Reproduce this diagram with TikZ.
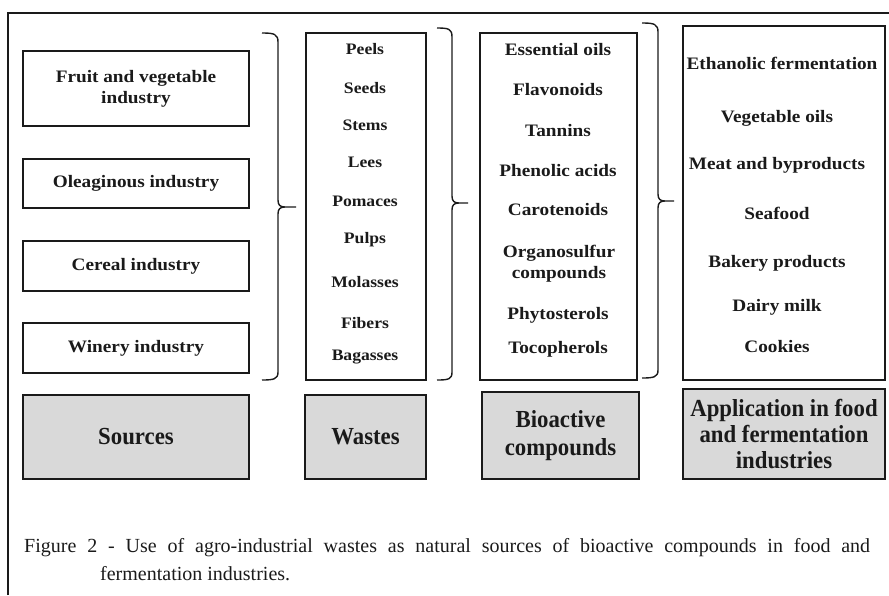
\documentclass[tikz,border=0pt]{standalone}
\usepackage{fontspec}
\setmainfont{Liberation Serif}
\newfontfamily\stfont[FakeStretch=1.1]{Liberation Serif}
\newfontfamily\condfont[FakeStretch=0.93]{Liberation Serif}
\definecolor{boxgray}{HTML}{D9D9D9}
\definecolor{ink}{HTML}{1A1A1A}
\tikzset{
  topbox/.style={draw=ink, line width=1.5pt, inner sep=0pt, align=center,
     font={\stfont\bfseries\fontsize{17.5}{21}\selectfont}, text=ink},
  listbox/.style={draw=ink, line width=1.5pt, inner sep=0pt},
  itm/.style={inner sep=0pt, align=center, text=ink,
     font={\stfont\bfseries\fontsize{17.5}{21}\selectfont}},
  witm/.style={itm, font={\stfont\bfseries\fontsize{16}{20}\selectfont}},
  greybox/.style={draw=ink, line width=1.6pt, fill=boxgray, inner sep=0pt, align=center, text=ink,
     font={\condfont\bfseries\fontsize{24.5}{26}\selectfont}},
  brc/.style={draw=ink, line width=1.4pt},
  frame/.style={draw=ink, line width=1.2pt},
  captxt/.style={inner sep=0pt, anchor=west, text=ink, font={\fontsize{20}{28}\selectfont}}
}
\begin{document}
\begin{tikzpicture}[x=1pt,y=-1pt]
\useasboundingbox (0,0) rectangle (889,595);
% outer frame
\draw[frame] (8,595) -- (8,13) -- (889,13);

% sources
\node[topbox, minimum width=226pt, minimum height=75pt] (fv) at (136,88.5) {Fruit and vegetable\\industry};
\node[topbox, minimum width=226pt, minimum height=49pt] (ol) at (136,183.5) {Oleaginous industry};
\node[topbox, minimum width=226pt, minimum height=50pt] (ce) at (136,266) {Cereal industry};
\node[topbox, minimum width=226pt, minimum height=50pt] (wi) at (136,348) {Winery industry};

% list boxes
\node[listbox, minimum width=120pt, minimum height=347pt] (wbox) at (366,206.5) {};
\node[listbox, minimum width=157pt, minimum height=347pt] (bbox) at (558.5,206.5) {};
\node[listbox, minimum width=202pt, minimum height=354pt] (abox) at (784,203) {};

% wastes items
\foreach \t/\y [count=\i] in {Peels/49, Seeds/88, Stems/125, Lees/162, Pomaces/201, Pulps/240, Molasses/282, Fibers/323, Bagasses/357}
  \node[witm] (w\i) at (365,\y) {\t};

% bioactive items
\foreach \t/\y [count=\i] in {Essential oils/50, Flavonoids/90, Tannins/131, Phenolic acids/171, Carotenoids/210, Phytosterols/315, Tocopherols/349}
  \node[itm] (b\i) at (558,\y) {\t};
\node[itm] (b8) at (559,264) {Organosulfur\\compounds};

% application items
\node[itm] (a1) at (782,63) {Ethanolic fermentation};
\foreach \t/\y [count=\i from 2] in {Vegetable oils/118, Meat and byproducts/165, Seafood/213, Bakery products/263, Dairy milk/307, Cookies/347}
  \node[itm] (a\i) at (777,\y) {\t};

% braces
\draw[brc] (262,33) .. controls (274,33) and (278,34) .. (278,42) -- (278,200)
   .. controls (278,205) and (280,207) .. (285,207) -- (296,207)
   (285,207) .. controls (280,207) and (278,209) .. (278,214) -- (278,372)
   .. controls (278,379) and (274,380) .. (262,380);
\draw[brc] (437,28) .. controls (449,28) and (452,29) .. (452,37) -- (452,196)
   .. controls (452,201) and (454,203) .. (459,203) -- (468,203)
   (459,203) .. controls (454,203) and (452,205) .. (452,210) -- (452,372)
   .. controls (452,379) and (449,380) .. (437,380);
\draw[brc] (642,23) .. controls (654,23) and (658,24) .. (658,32) -- (658,194)
   .. controls (658,199) and (660,201) .. (665,201) -- (674,201)
   (665,201) .. controls (660,201) and (658,203) .. (658,208) -- (658,370)
   .. controls (658,377) and (654,378) .. (642,378);

% bottom grey boxes
\node[greybox, minimum width=226pt, minimum height=84pt] (src) at (136,437) {Sources};
\node[greybox, minimum width=121pt, minimum height=84pt] (wst) at (365.5,437) {Wastes};
\node[greybox, minimum width=157pt, minimum height=87pt, font={\condfont\bfseries\fontsize{24.5}{28}\selectfont}] (bio) at (560.5,435.5) {Bioactive\\compounds};
\node[greybox, minimum width=202pt, minimum height=90pt] (app) at (784,434) {Application in food\\and fermentation\\industries};

% caption
\node[captxt] (cap1) at (24,548) {\makebox[846pt][s]{Figure 2 - Use of agro-industrial wastes as natural sources of bioactive compounds in food and}};
\node[captxt] (cap2) at (100,574) {fermentation industries.};
\end{tikzpicture}
\end{document}
